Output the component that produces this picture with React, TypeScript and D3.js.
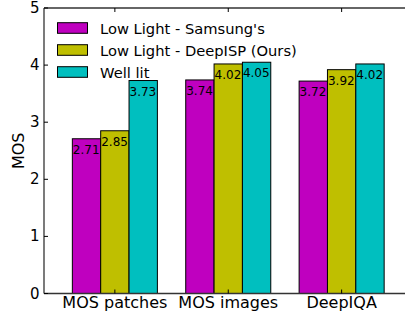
import React from "react";
import * as d3 from "d3";

const categories = ["MOS patches", "MOS images", "DeepIQA"];
const seriesNames = ["Low Light - Samsung's", "Low Light - DeepISP (Ours)", "Well lit"];
const samsung = [2.71, 3.74, 3.72];
const deepisp = [2.85, 4.02, 3.92];
const wellLit = [3.73, 4.05, 4.02];
const yTicks = [0, 1, 2, 3, 4, 5];
const colors = ["#bf00bf", "#bfbf00", "#00bfbf"];

export default function App() {
  const W = 405, H = 314;
  const left = 44, right = 412.5, top = 8, bottom = 293.5;
  const x = d3.scaleLinear().domain([-0.625, 2.625]).range([left, right]);
  const y = d3.scaleLinear().domain([0, 5]).range([bottom, top]);
  const series = [samsung, deepisp, wellLit];
  const bw = 0.25;
  const bwPx = x(bw) - x(0);
  const font = "DejaVu Sans, sans-serif";
  return (
    <svg width={W} height={H} style={{ position: "absolute", left: 0, top: 0, background: "#fff" }} fontFamily={font}>
      <rect x={0} y={0} width={W} height={H} fill="#fff" />
      {series.map((vals, k) =>
        vals.map((v, i) => {
          const bx = x(i + (k - 1) * bw - bw / 2);
          const by = y(v);
          return (
            <g key={`${k}-${i}`}>
              <rect x={bx} y={by} width={bwPx} height={y(0) - by} fill={colors[k]} stroke="#000" strokeWidth={1} />
              <text x={bx + 0.5} y={by + 15} fontSize={12} fill="#000">{v.toFixed(2)}</text>
            </g>
          );
        })
      )}
      {/* spines */}
      <line x1={left} x2={W} y1={top} y2={top} stroke="#333" strokeWidth={1.3} />
      <line x1={left} x2={W} y1={bottom} y2={bottom} stroke="#333" strokeWidth={1.3} />
      <line x1={left} x2={left} y1={top} y2={bottom} stroke="#333" strokeWidth={1.3} />
      {/* y ticks */}
      {yTicks.map((t) => (
        <g key={t}>
          <line x1={left} x2={left + 4} y1={y(t)} y2={y(t)} stroke="#000" strokeWidth={1} />
          <text x={left - 4.5} y={y(t)} fontSize={15} textAnchor="end" dominantBaseline="central" fill="#000">{t}</text>
        </g>
      ))}
      {/* x ticks */}
      {categories.map((c, i) => (
        <g key={c}>
          <line x1={x(i)} x2={x(i)} y1={bottom} y2={bottom - 4} stroke="#000" strokeWidth={1} />
          <line x1={x(i)} x2={x(i)} y1={top} y2={top + 4} stroke="#000" strokeWidth={1} />
          <text x={x(i)} y={bottom + 14.5} fontSize={16} textAnchor="middle" fill="#000">{c}</text>
        </g>
      ))}
      <text transform={`translate(24,${(top + bottom) / 2}) rotate(-90)`} fontSize={16} textAnchor="middle" fill="#000">MOS</text>
      {/* legend */}
      {seriesNames.map((n, k) => (
        <g key={n}>
          <rect x={57.5} y={22.7 + k * 22} width={30} height={10.6} fill={colors[k]} stroke="#000" strokeWidth={1} />
          <text x={100} y={34 + k * 22} fontSize={14.7} fill="#000">{n}</text>
        </g>
      ))}
    </svg>
  );
}
